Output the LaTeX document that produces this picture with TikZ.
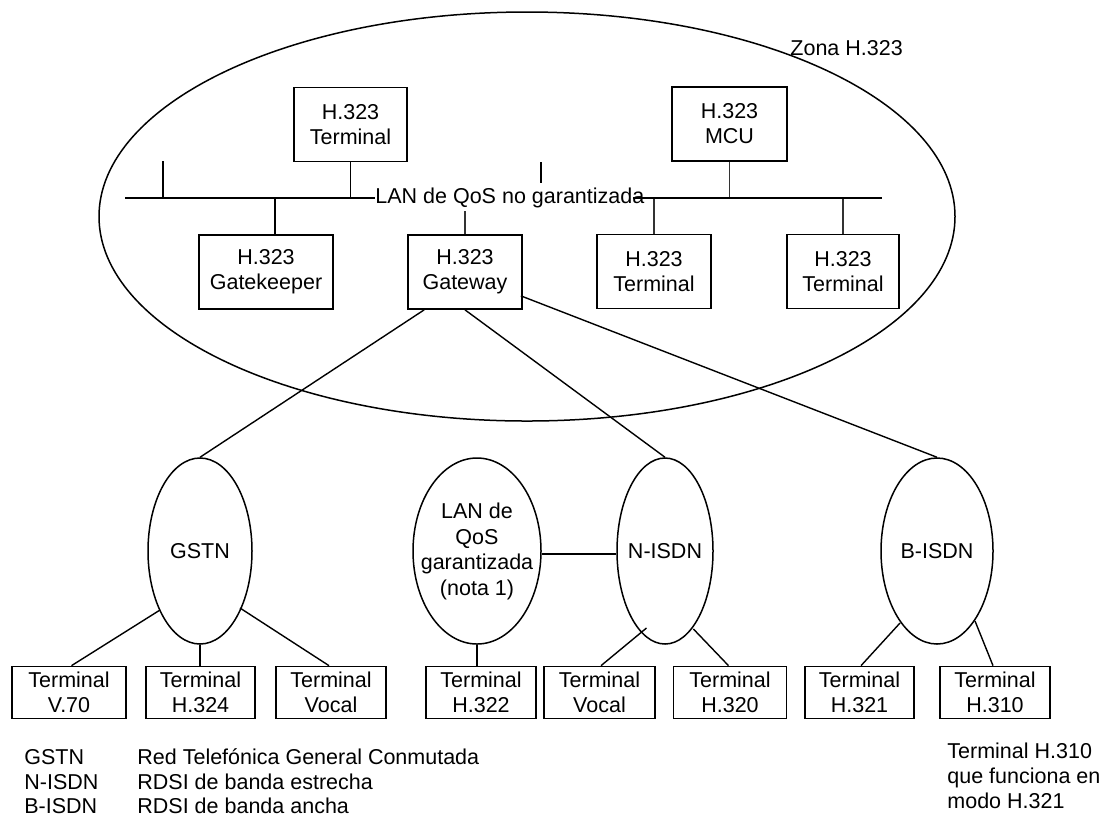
\documentclass[tikz,border=0pt]{standalone}
\usepackage{fontspec}
\setmainfont{Liberation Sans}
\usetikzlibrary{shapes.geometric,calc}
\begin{document}
\begin{tikzpicture}[x=0.5pt,y=-0.5pt,
  every node/.style={font=\fontsize{10.75pt}{12.5pt}\selectfont},
  box/.style={draw,line width=0.85pt,rectangle,align=center,inner sep=1pt,minimum height=37pt},
  tbox/.style={draw,line width=0.85pt,rectangle,align=center,inner sep=0.5pt,minimum height=26pt},
  net/.style={draw,line width=0.75pt,ellipse,inner sep=0pt,minimum height=93pt},
  plain/.style={inner sep=0pt},
  wire/.style={line width=0.7pt},
  thinwire/.style={line width=0.55pt,black!80},
]
\useasboundingbox (0,0) rectangle (1106,816);

% H.323 zone
\draw[line width=0.75pt] (527,216.5) ellipse [x radius=428, y radius=204.5];
\node[plain,anchor=base west] (zona) at (790,55) {Zona H.323};

% equipment inside the zone
\node[box,minimum width=56.5pt] (t1)  at (350.5,124.5) {H.323\\Terminal};
\node[box,minimum width=57.5pt] (mcu) at (729.5,124)   {H.323\\MCU};
\node[box,minimum width=67pt]   (gk)  at (266,272)     {H.323\\Gatekeeper};
\node[box,minimum width=57pt]   (gw)  at (465,272)     {H.323\\Gateway};
\node[box,minimum width=57pt]   (t3)  at (654,271.5)   {H.323\\Terminal};
\node[box,minimum width=56pt]   (t4)  at (843,271.5)   {H.323\\Terminal};

% LAN bus
\coordinate (lanL) at (125,198);
\coordinate (lanR) at (882,198);
\coordinate (tickL) at (163,161);
\coordinate (gkT) at ($(gk.north)+(9,0)$);
\coordinate (mark) at (541,162);
\draw[wire] (lanL) -- (lanR);
\draw[wire] (tickL) -- (tickL |- lanL);
\draw[line width=1pt] (mark) -- ++(0,21);
\draw[wire] (t1.south) -- (t1.south |- lanL);
\draw[wire] (gkT) -- (gkT |- lanL);
\draw[thinwire] (gw.north) -- (gw.north |- lanL);
\draw[thinwire] (mcu.south) -- (mcu.south |- lanL);
\draw[thinwire] (t3.north) -- (t3.north |- lanL);
\draw[thinwire] (t4.north) -- (t4.north |- lanL);
\node[anchor=base west,fill=white,inner xsep=0pt,inner ysep=2pt] (lan) at (375,203) {LAN de QoS no garantizada};
\coordinate (lanCut) at (633,198);
\draw[wire] (lanCut) -- (lanR);

% external networks
\node[net,minimum width=52pt] (gstn)  at (200,551) {};
\node[net,minimum width=64pt] (lanq)  at (477,551) {};
\node[net,minimum width=48pt] (nisdn) at (665,551) {};
\node[net,minimum width=56pt] (bisdn) at (937,551) {};
\node[plain] (gstnT)  at (gstn)  {GSTN};
\node[plain,align=center,font=\fontsize{10.75pt}{12.75pt}\selectfont] (lanqT) at (477,551.5)
  {LAN de\\QoS\\garantizada\\(nota 1)};
\node[plain] (nisdnT) at (nisdn) {N-ISDN};
\node[plain] (bisdnT) at (bisdn) {B-ISDN};

% gateway links
\draw[wire] ($(gw.south west)+(17,0)$) -- (gstn.north);
\draw[wire] (gw.south) -- (nisdn.north);
\draw[wire] ($(gw.south east)+(-2,-14)$) -- (bisdn.north);
\draw[wire] ($(lanq.east)+(0,3)$) -- ($(nisdn.west)+(0,3)$);

% terminals
\node[tbox,minimum width=57pt]   (v70)  at (69,692.5)    {Terminal\\V.70};
\node[tbox,minimum width=54.5pt] (h324) at (200.5,692.5) {Terminal\\H.324};
\node[tbox,minimum width=55pt]   (voc1) at (331,692.5)   {Terminal\\Vocal};
\node[tbox,minimum width=55pt]   (h322) at (481,692.5)   {Terminal\\H.322};
\node[tbox,minimum width=55.5pt] (voc2) at (599.5,692.5) {Terminal\\Vocal};
\node[tbox,minimum width=56.5pt] (h320) at (730,692.5)   {Terminal\\H.320};
\node[tbox,minimum width=54.5pt] (h321) at (859.5,692.5) {Terminal\\H.321};
\node[tbox,minimum width=55pt]   (h310) at (995,692.5)   {Terminal\\H.310};

\draw[wire] ($(gstn)+(-40,59)$) -- ($(v70.north)+(2.5,0)$);
\draw[wire] (gstn.south) -- (gstn.south |- h324.north);
\draw[wire] ($(gstn)+(40,57)$) -- ($(voc1.north)+(-2,0)$);
\draw[wire] (lanq.south) -- (lanq.south |- h322.north);
\draw[wire] ($(nisdn)+(-18.5,77)$) -- ($(voc2.north)+(1.5,0)$);
\draw[wire] ($(nisdn)+(28.4,78)$) -- ($(h320.north)+(-1.5,0)$);
\draw[wire] ($(bisdn)+(-37,72)$) -- ($(h321.north)+(1.5,0)$);
\draw[wire] ($(bisdn)+(38,70)$) -- ($(h310.north)+(-2,0)$);

% legend
\node[plain,anchor=base west] (abG) at (24,764) {GSTN};
\node[plain,anchor=base west] (dsG) at (137,764) {Red Telefónica General Conmutada};
\node[plain,anchor=base west] (abN) at (24,789) {N-ISDN};
\node[plain,anchor=base west] (dsN) at (137,789) {RDSI de banda estrecha};
\node[plain,anchor=base west] (abB) at (24,813) {B-ISDN};
\node[plain,anchor=base west] (dsB) at (137,813) {RDSI de banda ancha};
\node[plain,anchor=north west,align=left] (note) at (947,742)
  {Terminal H.310\\que funciona en\\modo H.321};
\end{tikzpicture}
\end{document}
